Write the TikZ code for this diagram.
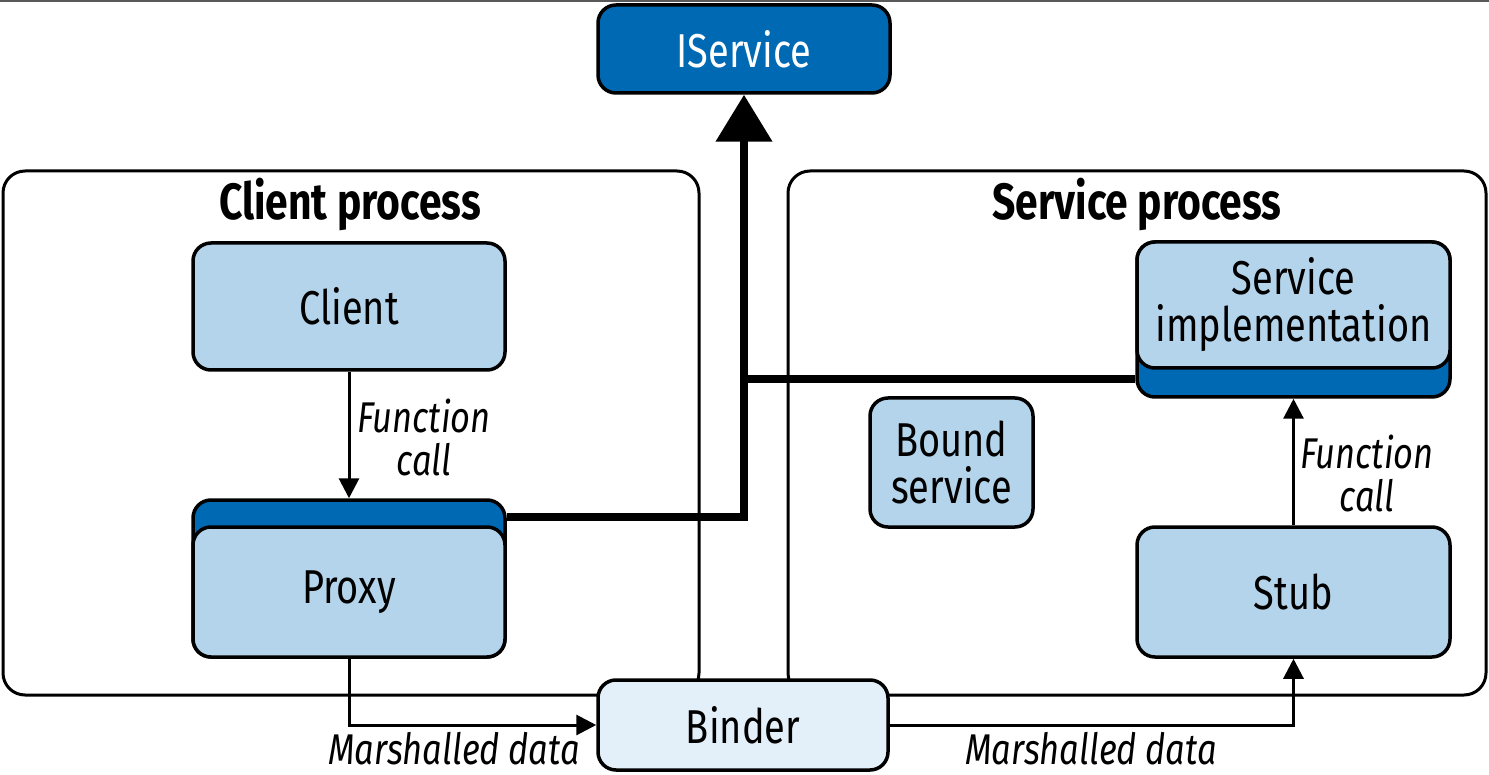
\documentclass[tikz,border=0pt]{standalone}
\usepackage{fontspec}
\setmainfont{Fira Sans}[FakeStretch=0.8]
\usetikzlibrary{arrows.meta,calc}
\definecolor{lblue}{RGB}{179,212,234}
\definecolor{dblue}{RGB}{0,105,180}
\definecolor{pblue}{RGB}{227,240,249}
\begin{document}
\begin{tikzpicture}[x=1pt,y=-1pt,
  proc/.style={draw, line width=3pt, rounded corners=22pt},
  title/.style={font=\fontsize{51}{54}\selectfont\bfseries},
  box/.style={draw, line width=3.5pt, rounded corners=18pt, fill=lblue, inner sep=0pt,
    align=center, font=\fontsize{47.5}{47}\selectfont},
  bar/.style={box, fill=dblue},
  lbl/.style={align=center, font=\fontsize{43}{43}\selectfont\itshape},
  arr/.style={line width=3pt, -{Triangle[width=20pt,length=20pt]}},
  big/.style={line width=8pt},
  bigarr/.style={line width=8pt, -{Triangle[width=55pt,length=47pt]}}
]
\useasboundingbox (0,0) rectangle (1489,775);
\fill[black!65] (0,0) rectangle (1489,2.5);

% process boxes
\draw[proc] (3,171) rectangle (699,695);
\draw[proc] (788,171) rectangle (1486,695);
\node[title] (ctitle) at (350,204) {Client process};
\node[title] (stitle) at (1137,204) {Service process};

% nodes
\node[box, fill=dblue, text=white, minimum width=292pt, minimum height=88pt] (iservice) at (744,49) {IService};
\node[box, minimum width=312pt, minimum height=127pt] (client) at (349,306.5) {Client};
\node[bar, minimum width=312pt, minimum height=157pt] (proxybar) at (349,578.5) {};
\node[box, minimum width=312pt, minimum height=130pt] (proxy) at (349,592) {Proxy};
\node[bar, minimum width=313pt, minimum height=155pt] (implbar) at (1293.5,319.5) {};
\node[box, minimum width=313pt, minimum height=126pt] (impl) at (1293.5,305) {Service\\implementation};
\node[box, minimum width=163pt, minimum height=129pt] (bound) at (951.5,462.5) {Bound\\service};
\node[box, minimum width=313pt, minimum height=130pt] (stub) at (1293.5,592) {Stub};
\node[box, fill=pblue, minimum width=290pt, minimum height=90pt] (binder) at (743,725) {Binder};

% thick connectors
\coordinate (pj) at ($(proxybar.north east)!0.68!(proxy.north east)$);
\coordinate (ij) at ($(implbar.south west)!0.68!(impl.south west)$);
\draw[big] (ij) -- (ij -| iservice.south);
\draw[bigarr] (pj) -| (iservice.south);

% thin arrows
\draw[arr] (client.south) -- (proxybar.north);
\draw[arr] (stub.north) -- (implbar.south);
\draw[arr] (proxy.south) |- (binder.west);
\draw[arr] (binder.east) -| (stub.south);

% labels
\node[lbl] (fc1) at (424,437) {Function\\call};
\node[lbl] (fc2) at (1367,473) {Function\\call};
\node[lbl] (md1) at (454,749) {Marshalled data};
\node[lbl] (md2) at (1091,749) {Marshalled data};
\end{tikzpicture}
\end{document}
